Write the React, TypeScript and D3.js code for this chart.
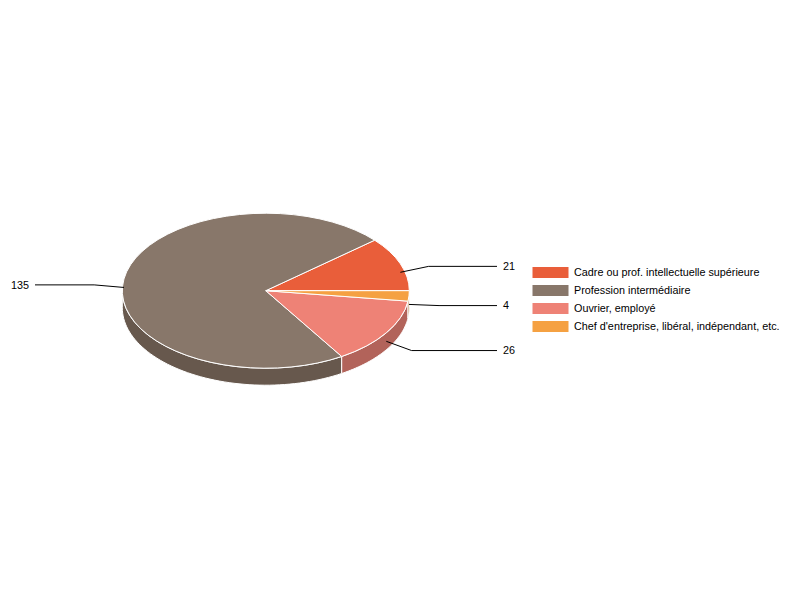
import React, { useEffect, useRef } from 'react';
import * as d3 from 'd3';

const categories = [
  'Cadre ou prof. intellectuelle supérieure',
  'Profession intermédiaire',
  'Ouvrier, employé',
  "Chef d'entreprise, libéral, indépendant, etc.",
];
const counts = [21, 135, 26, 4];
const topColors = ['#e95e3a', '#88776a', '#ee8276', '#f5a142'];
const sideColors = ['#a8432a', '#67584d', '#b2635a', '#b07430'];

const W = 800;
const H = 600;

export default function App() {
  const ref = useRef<SVGSVGElement>(null);

  useEffect(() => {
    if (!ref.current) return;
    const svg = d3.select(ref.current);
    svg.selectAll('*').remove();

    const cx = 265.8, cy = 290.7, rx = 143.5, ry = 77.5, depth = 17;
    const total = d3.sum(counts);
    const ang = d3.scaleLinear().domain([0, total]).range([0, 2 * Math.PI]);

    // math angles, counter-clockwise from 3 o'clock
    const cum = d3.cumsum(counts);
    const slices = counts.map((v, i) => ({
      i, v,
      a0: ang(cum[i] - v),
      a1: ang(cum[i]),
    }));
    const px = (t: number, r = 1) => cx + rx * r * Math.cos(t);
    const py = (t: number, r = 1) => cy - ry * r * Math.sin(t);

    const g = svg.append('g');

    // front rim sides
    const line = d3.line<[number, number]>();
    slices.forEach(s => {
      const lo = Math.max(s.a0, Math.PI);
      const hi = Math.min(s.a1, 2 * Math.PI);
      if (hi <= lo) return;
      const ts = d3.range(0, 61).map(k => lo + (hi - lo) * k / 60);
      const top = ts.map(t => [px(t), py(t)] as [number, number]);
      const bot = ts.slice().reverse().map(t => [px(t), py(t) + depth] as [number, number]);
      g.append('path')
        .attr('d', line([...top, ...bot])! + 'Z')
        .attr('fill', sideColors[s.i])
        .attr('stroke', '#fff')
        .attr('stroke-width', 1);
    });

    // top faces
    const pie = d3.pie<number>().sort(null).value(d => d)
      .startAngle(Math.PI / 2).endAngle(Math.PI / 2 - 2 * Math.PI);
    const arc = d3.arc<d3.PieArcDatum<number>>().innerRadius(0).outerRadius(rx);
    g.append('g')
      .attr('transform', `translate(${cx},${cy}) scale(1,${ry / rx})`)
      .selectAll('path')
      .data(pie(counts))
      .join('path')
      .attr('d', arc)
      .attr('fill', (_, i) => topColors[i])
      .attr('stroke', '#fff')
      .attr('stroke-width', 1)
      .attr('vector-effect', 'non-scaling-stroke');

    // value labels
    const lab = svg.append('g').attr('font-family', 'Arial, "Liberation Sans", sans-serif').attr('font-size', 10.8);
    slices.forEach(s => {
      const m = (s.a0 + s.a1) / 2;
      const right = Math.cos(m) >= 0;
      const sx = px(m), sy = py(m) + depth / 2;
      const ex = px(m, 1.21), ey = py(m, 1.22) + depth / 2;
      const endX = right ? 497 : 35;
      lab.append('path')
        .attr('d', `M${sx},${sy}L${ex},${ey}L${endX},${ey}`)
        .attr('fill', 'none')
        .attr('stroke', '#000')
        .attr('stroke-width', 1);
      lab.append('text')
        .attr('x', right ? 503 : 29)
        .attr('y', ey)
        .attr('dy', '0.36em')
        .attr('text-anchor', right ? 'start' : 'end')
        .attr('fill', '#000')
        .text(String(s.v));
    });

    // legend
    const leg = svg.append('g').attr('font-family', 'Arial, "Liberation Sans", sans-serif').attr('font-size', 10.8);
    const rowY = d3.scaleLinear().domain([0, 1]).range([267, 285]);
    categories.forEach((c, i) => {
      leg.append('rect')
        .attr('x', 532.5).attr('y', rowY(i))
        .attr('width', 36).attr('height', 11)
        .attr('fill', topColors[i]);
      leg.append('text')
        .attr('x', 574).attr('y', rowY(i) + 5.5)
        .attr('dy', '0.36em')
        .attr('fill', '#000')
        .text(c);
    });
  }, []);

  return (
    <svg ref={ref} width={W} height={H}
      style={{ position: 'absolute', left: 0, top: 0, background: '#fff' }} />
  );
}
